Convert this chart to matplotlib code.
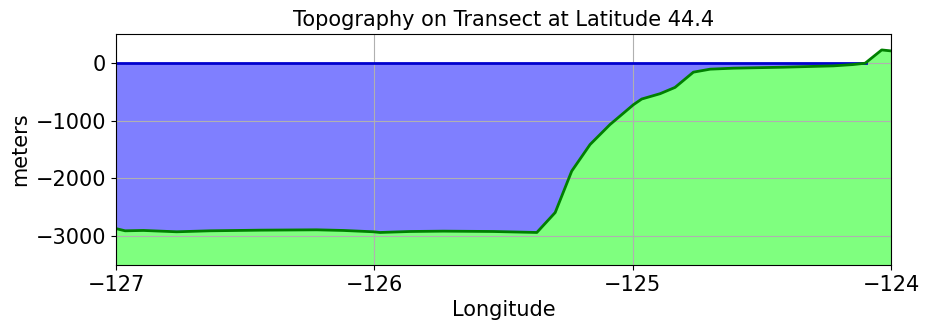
import numpy as np
import matplotlib
matplotlib.use('Agg')
import matplotlib.pyplot as plt

# longitude (deg) and depth (m) along the transect
lon = [-127.0, -126.965, -126.894, -126.765, -126.636, -126.44, -126.223,
       -126.12, -126.004, -125.978, -125.862, -125.733, -125.54, -125.371,
       -125.30, -125.236, -125.165, -125.088, -124.997, -124.965, -124.894,
       -124.836, -124.765, -124.70, -124.61, -124.417, -124.223, -124.146,
       -124.10, -124.036, -124.0]
depth = [-2870, -2908, -2902, -2925, -2908, -2897, -2891,
         -2902, -2925, -2937, -2920, -2914, -2920, -2937,
         -2592, -1874, -1414, -1069, -724, -626, -534,
         -425, -161, -109, -92, -75, -52, -29,
         -6, 224, 207]

lon = np.array(lon)
depth = np.array(depth)
ybot, ytop = -3500, 500

# shoreline: where the profile first crosses sea level
i = np.argmax(depth > 0)
x_shore = np.interp(0, [depth[i - 1], depth[i]], [lon[i - 1], lon[i]])

plt.rcParams['font.size'] = 15
fig = plt.figure(figsize=(9.29, 3.3), dpi=100)
ax = fig.add_axes([0.1249, 0.197, 0.8342, 0.700])

ax.fill_between(lon, depth, 0, where=depth <= 0, interpolate=True,
                color='blue', alpha=0.5, linewidth=0)
ax.fill_between(lon, ybot, depth, color='lime', alpha=0.5, linewidth=0)
ax.plot([lon[0], x_shore], [0, 0], color='mediumblue', linewidth=2)
ax.plot(lon, depth, color='green', linewidth=2)

ax.set_xlim(-127, -124)
ax.set_ylim(ybot, ytop)
ax.set_xticks([-127, -126, -125, -124])
ax.set_yticks([0, -1000, -2000, -3000])
ax.grid(True)
ax.set_xlabel('Longitude')
ax.set_ylabel('meters')
ax.set_title('Topography on Transect at Latitude 44.4', fontsize=15)

fig.savefig('out.png', dpi=100)
